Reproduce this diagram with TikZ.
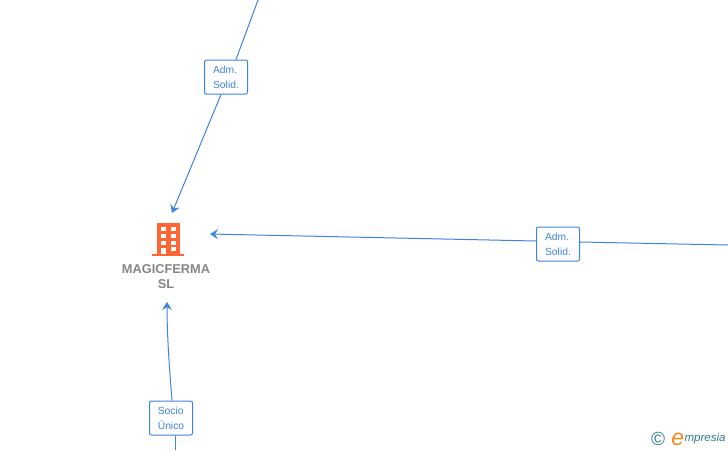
\documentclass[tikz,border=0pt]{standalone}
\usepackage{fontspec}
\setmainfont{Liberation Sans}
\usetikzlibrary{positioning,arrows.meta}
\definecolor{linkblue}{HTML}{3F83E0}
\definecolor{buildorange}{HTML}{FF6633}
\definecolor{namegray}{HTML}{858585}
\definecolor{logoteal}{HTML}{2F7A8C}
\definecolor{logoorange}{HTML}{F08A1D}
\tikzset{
    role/.style={draw=linkblue,fill=white,rounded corners=2pt,line width=1pt,text=linkblue,
        font=\fontsize{10.3}{15}\selectfont,align=left,minimum width=43pt,minimum height=34pt,inner sep=0pt,
        execute at begin node=\vspace*{2pt}},
    link/.style={draw=linkblue,line width=1pt},
    linkend/.style={link,-{Stealth[length=8pt,width=10pt,inset=3pt]}}
}
\begin{document}
\begin{tikzpicture}[x=1pt,y=-1pt]
    \useasboundingbox (0,0) rectangle (728,450);

    % building
    \node[fill=buildorange,minimum width=23pt,minimum height=32pt,inner sep=0pt] (building) at (168,239) {};
    \node[fill=buildorange,minimum width=32pt,minimum height=2.5pt,inner sep=0pt] (base) at (168,255) {};
    \foreach \y in {229,236,243} {
        \fill[white] (160.5,\y-2.4) rectangle (165.5,\y+2.4);
        \fill[white] (170.5,\y-2.4) rectangle (175.5,\y+2.4);
    }
    \fill[white] (170.5,246.5) rectangle (175.5,251);
    \fill[white] (160.5,247.5) rectangle (165.5,254);
    \node[below=9.5pt of building,xshift=-2pt,text=namegray,font=\fontsize{12.8}{15}\selectfont\bfseries,align=center,inner sep=0pt] (name) {MAGICFERMA\\SL};

    % labels
    \node[role] (admA) at (226,77) {Adm.\\Solid.};
    \node[role] (admB) at (558,244) {Adm.\\Solid.};
    \node[role] (socio) at (171,418) {Socio\\Único};

    \coordinate (fromA) at (258,0);
    \coordinate (toA) at (172,213);
    \coordinate (fromB) at (728,245);
    \coordinate (toB) at (210,234);
    \coordinate (fromC) at (175,450);
    \coordinate (toC) at (167,302);

    \draw[link] (fromA) -- ([xshift=10pt]admA.north);
    \draw[linkend] ([xshift=-5pt]admA.south) -- (toA);
    \draw[link] (fromB) -- ([yshift=2pt]admB.east);
    \draw[linkend] ([yshift=3pt]admB.west) -- (toB);
    \draw[link] (fromC) -- ([xshift=4pt]socio.south);
    \draw[linkend] ([xshift=1pt]socio.north) .. controls (169.5,370) and (167,335) .. (toC);

    % logo
    \node[text=logoteal,font=\fontsize{19}{19}\selectfont,inner sep=0pt] (copy) at (658,439) {©};
    \node[right=6pt of copy,yshift=-0.5pt,text=logoorange,font=\fontsize{23}{23}\selectfont\itshape,inner sep=0pt] (logoe) {e};
    \node[right=0pt of logoe,yshift=1pt,text=logoteal,font=\fontsize{11.5}{13}\selectfont\itshape,inner sep=0pt] (logotext) {mpresia};
\end{tikzpicture}
\end{document}
